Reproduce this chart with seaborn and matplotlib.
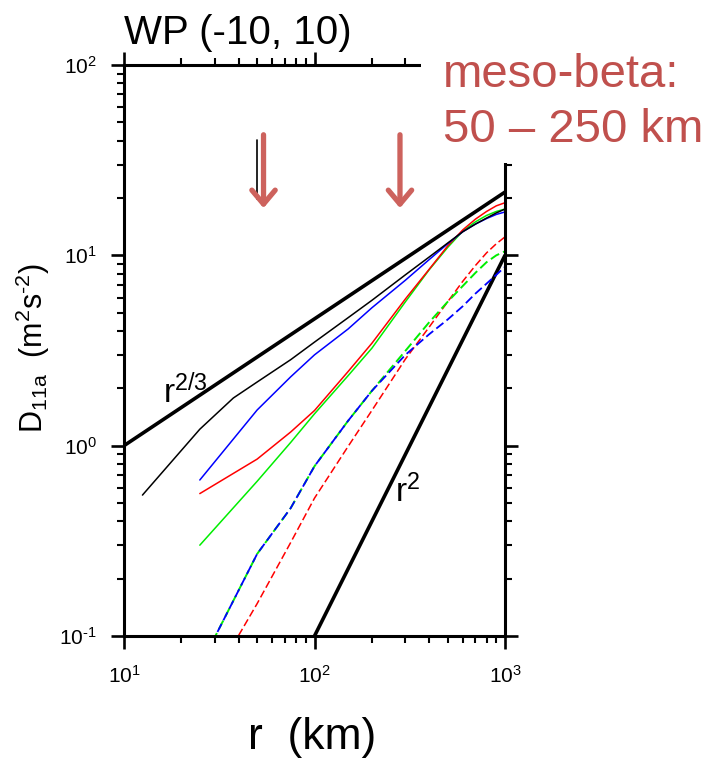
import matplotlib
matplotlib.use("Agg")
import matplotlib.pyplot as plt
import seaborn as sns
from matplotlib.patches import Rectangle
from matplotlib.ticker import FuncFormatter
import math

sns.set_theme(style="ticks", rc={
    "axes.edgecolor": "black", "xtick.color": "black", "ytick.color": "black",
    "text.color": "black", "axes.labelcolor": "black",
})
plt.rcParams["font.family"] = ["Liberation Sans", "DejaVu Sans"]
plt.rcParams["mathtext.fontset"] = "custom"
plt.rcParams["mathtext.rm"] = "Liberation Sans"
plt.rcParams["mathtext.it"] = "Liberation Sans:italic"
plt.rcParams["mathtext.default"] = "regular"

# separation distance r (km)
r_black = [12.5, 25, 37.5, 50, 75, 100, 150, 200, 300, 400, 500, 600, 700, 800, 900, 1000]
r_col = [25, 50, 75, 100, 150, 200, 300, 400, 500, 600, 700, 800, 900, 1000]

# structure function D11a (m^2 s^-2)
d_black = [0.55, 1.22, 1.78, 2.16, 2.83, 3.5, 4.7, 5.8, 7.9, 9.8, 11.6, 13.3, 14.6, 15.7, 16.7, 17.5]
d_blue = [0.66, 1.54, 2.30, 3.0, 4.1, 5.3, 7.4, 9.5, 11.5, 13.3, 14.6, 15.6, 16.4, 16.9]
d_red = [0.56, 0.85, 1.18, 1.53, 2.45, 3.45, 5.9, 8.45, 11.2, 13.6, 15.5, 17.0, 18.2, 18.9]
d_green = [0.30, 0.65, 1.04, 1.47, 2.33, 3.25, 5.7, 8.4, 11.0, 13.4, 15.0, 16.2, 17.0, 17.5]
d_blue_dash = [0.069, 0.27, 0.47, 0.78, 1.35, 1.94, 3.0, 3.85, 4.6, 5.4, 6.3, 7.1, 7.9, 8.7]
d_green_dash = [0.069, 0.27, 0.47, 0.78, 1.35, 1.94, 3.15, 4.45, 5.7, 6.9, 8.1, 9.2, 10.0, 10.5]
d_red_dash = [0.045, 0.148, 0.31, 0.53, 0.99, 1.53, 2.85, 4.2, 5.7, 7.3, 8.85, 10.3, 11.5, 12.5]

# reference power laws
ref23_r = [10, 1000]
ref23_d = [1.0, 21.5]
ref2_r = [100, 1000]
ref2_d = [0.1, 10.0]

# marked scale range
band_r = [54, 281]

W, H = 705, 761
fig = plt.figure(figsize=(W / 100, H / 100), dpi=100)


def fx(px):
    return px / W


def fy(py):
    return 1 - py / H


def pow10_label(v, pos):
    e = int(round(math.log10(v)))
    if e < 0:
        return r"$\mathregular{10^{\text{-}%d}}$" % (-e)
    return r"$\mathregular{10^{%d}}$" % e


ax = fig.add_axes([fx(124), fy(636), (505 - 124) / W, (636 - 65) / H])
ax.set_xscale("log")
ax.set_yscale("log")
ax.set_xlim(10, 1000)
ax.set_ylim(0.1, 100)

thin = 1.1
dash = (0, (5, 2.2))
line_kw = dict(ax=ax, estimator=None, sort=False, legend=False)

sns.lineplot(x=ref23_r, y=ref23_d, color="black", linewidth=2.6, **line_kw)
sns.lineplot(x=ref2_r, y=ref2_d, color="black", linewidth=2.6, **line_kw)

sns.lineplot(x=r_col, y=d_red_dash, color="#ff0000", linewidth=thin, linestyle=dash, **line_kw)
sns.lineplot(x=r_col, y=d_green_dash, color="#00ee00", linewidth=1.4, linestyle=dash, **line_kw)
sns.lineplot(x=r_col, y=d_blue_dash, color="#0000ff", linewidth=1.3, linestyle=dash, **line_kw)

sns.lineplot(x=r_col, y=d_green, color="#00ee00", linewidth=thin, **line_kw)
sns.lineplot(x=r_col, y=d_red, color="#ff0000", linewidth=thin, **line_kw)
sns.lineplot(x=r_col, y=d_blue, color="#0000ff", linewidth=thin, **line_kw)
sns.lineplot(x=r_black, y=d_black, color="black", linewidth=thin, **line_kw)

ax.text(16.0, 1.67, r"$\mathregular{r^{2/3}}$", fontsize=24, ha="left", va="baseline")
ax.text(264.7, 0.507, r"$\mathregular{r^{2}}$", fontsize=24, ha="left", va="baseline")

# frame and ticks
for side in ["left", "right", "top", "bottom"]:
    ax.spines[side].set_visible(True)
    ax.spines[side].set_linewidth(2.2)
ax.xaxis.set_major_formatter(FuncFormatter(pow10_label))
ax.yaxis.set_major_formatter(FuncFormatter(pow10_label))
ax.tick_params(which="both", direction="out", top=True, right=True,
               labeltop=False, labelright=False)
ax.tick_params(which="major", length=9.5, width=1.9, labelsize=15, pad=11)
ax.tick_params(which="minor", length=5, width=1.5)
ax.tick_params(axis="y", which="major", pad=10)
ax.grid(False)

# scale-range markers
ax.plot([50, 50], [19.8, 40.4], color="black", linewidth=1.2, clip_on=False)
for xr in band_r:
    ax.annotate("", xy=(xr, 17.7), xytext=(xr, 43), annotation_clip=False,
                arrowprops=dict(arrowstyle="->,head_length=0.5,head_width=0.42",
                                color="#cd625d", linewidth=3.8, mutation_scale=20,
                                shrinkA=0, shrinkB=0))

# labels
fig.text(fx(124), fy(44), "WP (-10, 10)", fontsize=29, ha="left", va="baseline")
fig.text(fx(312), fy(738), "r  (km)", fontsize=32, ha="center", va="center")
fig.text(fx(33), fy(348), r"$\mathregular{D_{11a}\ \ (m^2s^{\text{-}2})}$", fontsize=22,
         rotation=90, ha="center", va="center")

fig.add_artist(Rectangle((fx(421), fy(163)), (W - 421) / W, 163 / H,
                         transform=fig.transFigure, facecolor="white",
                         edgecolor="none", zorder=5))
fig.text(fx(443), fy(87), "meso-beta:", fontsize=34, color="#c0504d",
         ha="left", va="baseline", zorder=6)
fig.text(fx(443), fy(142), "50 \u2013 250 km", fontsize=34, color="#c0504d",
         ha="left", va="baseline", zorder=6)

fig.savefig("out.png", dpi=100)
